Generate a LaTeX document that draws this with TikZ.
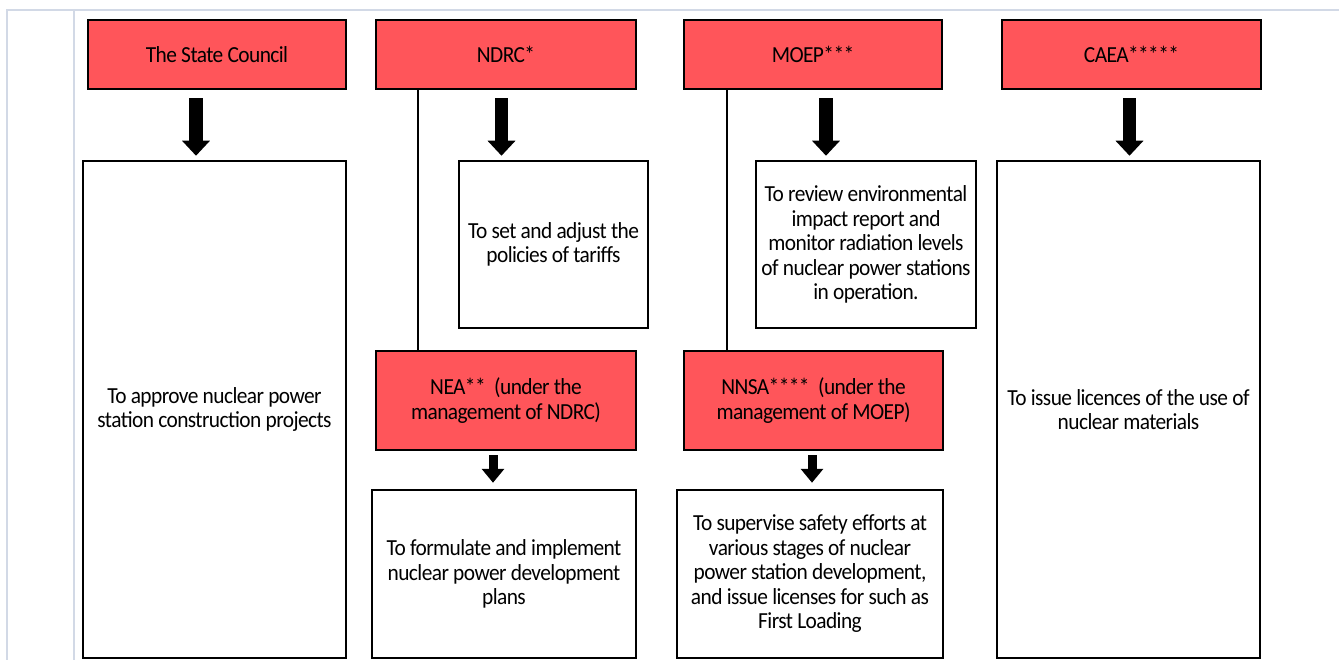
\documentclass[tikz,border=0pt]{standalone}
\usepackage{fontspec}
\setmainfont{Carlito}[FakeStretch=0.93,LetterSpace=-2.5]
\usetikzlibrary{arrows.meta}
\usetikzlibrary{calc}

\definecolor{headred}{RGB}{255,85,90}
\definecolor{framegray}{RGB}{210,217,230}

\tikzset{
	headbox/.style={draw=black, line width=2.5pt, fill=headred, align=center, inner sep=0pt,
		font=\fontsize{23}{24.5}\selectfont},
	taskbox/.style={draw=black, line width=2.5pt, fill=white, align=center, inner sep=0pt,
		font=\fontsize{23}{24.5}\selectfont},
	bigarrow/.style={line width=13.5pt, -{Triangle[length=15pt, width=27pt]},
		shorten <=8pt, shorten >=4pt},
	smallarrow/.style={line width=9pt, -{Triangle[length=14pt, width=22pt]},
		shorten <=4pt, shorten >=6pt},
}

\begin{document}
\begin{tikzpicture}[x=1pt, y=-1pt]
	\useasboundingbox (0,0) rectangle (1339,660);

	% Page frame
	\coordinate (framecorner) at (7,10.5);
	\draw[framegray, line width=2pt] (1339,10.5) -- (framecorner) -- (7,660);
	\draw[framegray, line width=2pt] (74,10.5) -- (74,660);

	% Head row
	\node[headbox, minimum width=258pt, minimum height=69pt] (council) at (217,54.5) {The State Council};
	\node[headbox, minimum width=260pt, minimum height=69pt] (ndrc) at (506,54.5) {NDRC*};
	\node[headbox, minimum width=258pt, minimum height=69pt] (moep) at (813,54.5) {MOEP***};
	\node[headbox, minimum width=259pt, minimum height=69pt] (caea) at (1131.5,54.5) {CAEA*****};

	% Tasks of the head row
	\node[taskbox, minimum width=263pt, minimum height=497pt] (counciltask) at (214.5,409.5)
		{To approve nuclear power\\station construction projects};
	\node[taskbox, minimum width=189pt, minimum height=167pt] (ndrctask) at (553.5,244.5)
		{To set and adjust the\\policies of tariffs};
	\node[taskbox, minimum width=220pt, minimum height=167pt] (moeptask) at (866,244.5)
		{To review environmental\\impact report and\\monitor radiation levels\\of nuclear power stations\\in operation.};
	\node[taskbox, minimum width=263pt, minimum height=497pt] (caeatask) at (1128.5,409.5)
		{To issue licences of the use of\\nuclear materials};

	% Agencies under the management
	\node[headbox, minimum width=260pt, minimum height=99pt] (nea) at (506,400.5)
		{NEA** \ (under the\\management of NDRC)};
	\node[headbox, minimum width=259pt, minimum height=99pt] (nnsa) at (813.5,400.5)
		{NNSA**** \ (under the\\management of MOEP)};

	% Tasks of the agencies
	\node[taskbox, minimum width=264pt, minimum height=168pt] (neatask) at (504,574)
		{To formulate and implement\\nuclear power development\\plans};
	\node[taskbox, minimum width=266pt, minimum height=168pt] (nnsatask) at (810,574)
		{To supervise safety efforts at\\various stages of nuclear\\power station development,\\and issue licenses for such as\\First Loading};

	% Management lines
	\draw[line width=1.6pt] (ndrc.south -| 418,0) -- (nea.north -| 418,0);
	\draw[line width=1.6pt] (moep.south -| 727,0) -- (nnsa.north -| 727,0);

	% Arrows
	\draw[bigarrow] (council.south -| 196,0) -- (counciltask.north -| 196,0);
	\draw[bigarrow] (ndrc.south -| 501.5,0) -- (ndrctask.north -| 501.5,0);
	\draw[bigarrow] (moep.south -| 826,0) -- (moeptask.north -| 826,0);
	\draw[bigarrow] (caea.south -| 1129.5,0) -- (caeatask.north -| 1129.5,0);
	\draw[smallarrow] (nea.south -| 493,0) -- (neatask.north -| 493,0);
	\draw[smallarrow] (nnsa.south -| 812,0) -- (nnsatask.north -| 812,0);
\end{tikzpicture}
\end{document}
